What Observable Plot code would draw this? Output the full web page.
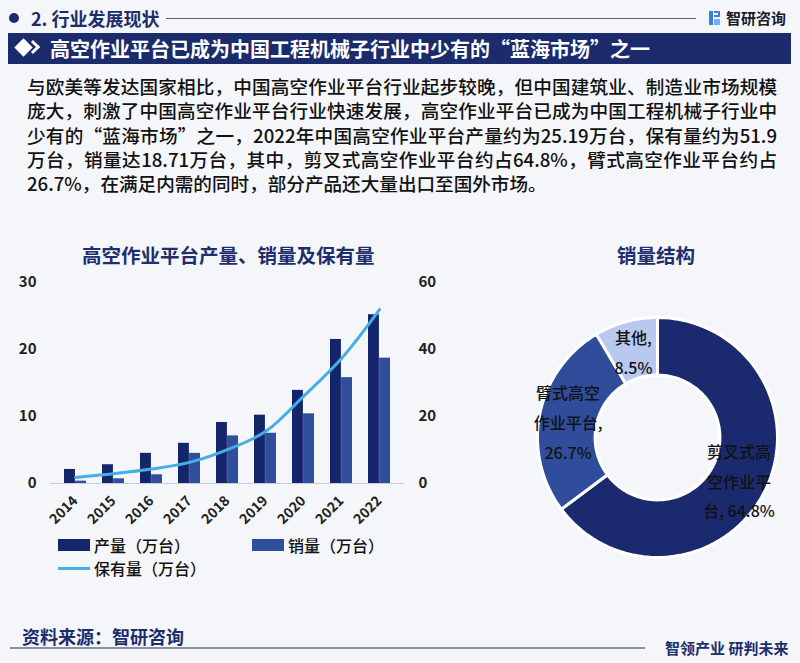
<!DOCTYPE html>
<html><head><meta charset="utf-8">
<script src="https://cdn.jsdelivr.net/npm/d3@7"></script>
<script src="https://cdn.jsdelivr.net/npm/@observablehq/plot@0.6"></script>
<style>
body{margin:0;background:#f5f6f9;font-family:"Noto Sans CJK SC","Noto Sans",sans-serif;}
#root{position:relative;width:800px;height:663px;overflow:hidden;background:#f5f6f9;}
.abs{position:absolute;white-space:nowrap;}
#para{left:27px;top:74px;width:750px;font-size:18.6px;line-height:24.3px;font-weight:500;color:#111;white-space:normal;}
#para div{text-align:justify;text-align-last:justify;white-space:nowrap;height:24.3px;}
#para div.last{text-align-last:left;}
.ctitle{font-size:19.5px;font-weight:700;color:#1f2e6e;}
.leg{font-size:16px;font-weight:500;color:#111;}
svg{overflow:visible;}
</style></head><body><div id="root">
<div class="abs" style="left:9px;top:13px;width:10px;height:10px;border-radius:50%;background:#1c2d6e"></div>
<div class="abs" style="left:31px;top:5px;font-size:18px;font-weight:700;color:#1c2d6e;line-height:26px">2. 行业发展现状</div>
<div class="abs" style="left:166px;top:18px;width:530px;height:1px;background:#666"></div>
<div class="abs" style="left:709px;top:11px;width:4px;height:14px;background:#3a7fd9"></div>
<div class="abs" style="left:714px;top:11px;width:6px;height:6px;border:2px solid #3a7fd9;border-left:none;box-sizing:border-box"></div>
<div class="abs" style="left:714px;top:19px;width:6px;height:6px;background:#6fb1f0"></div>
<div class="abs" style="left:726px;top:6px;font-size:15px;font-weight:700;color:#1a1a2a;line-height:24px">智研咨询</div>
<div class="abs" style="left:8px;top:33px;width:783px;height:31px;background:#1c2b6c"></div>
<div class="abs" style="left:17px;top:41px;width:13px;height:13px;background:#fff;transform:rotate(45deg)"></div>
<div class="abs" style="left:28px;top:42px;width:10px;height:10px;border-top:3px solid #fff;border-right:3px solid #fff;box-sizing:border-box;transform:rotate(45deg)"></div>
<div class="abs" style="left:50px;top:33px;font-size:20px;font-weight:700;color:#fff;line-height:31px">高空作业平台已成为中国工程机械子行业中少有的“蓝海市场”之一</div>
<div id="para" class="abs"></div>
<div class="abs ctitle" style="left:82px;top:241px;line-height:28px">高空作业平台产量、销量及保有量</div>
<div class="abs ctitle" style="left:617px;top:241px;line-height:28px">销量结构</div>
<div id="bars" class="abs" style="left:0;top:270px"></div>
<div id="line" class="abs" style="left:0;top:270px"></div>
<div id="legend"></div>
<div id="donut" class="abs" style="left:527px;top:307px"></div>
<div class="abs" style="left:22px;top:623px;font-size:18px;font-weight:700;color:#1c2d6e;line-height:26px">资料来源：智研咨询</div>
<div class="abs" style="left:10px;top:647px;width:635px;height:2px;background:#8a8fa0"></div>
<div class="abs" style="left:665px;top:637px;font-size:15px;font-weight:700;color:#1c2d6e;line-height:22px">智领产业 研判未来</div>
</div>
<script>
// ---- data ----
const paraLines = [
  "与欧美等发达国家相比，中国高空作业平台行业起步较晚，但中国建筑业、制造业市场规模",
  "庞大，刺激了中国高空作业平台行业快速发展，高空作业平台已成为中国工程机械子行业中",
  "少有的“蓝海市场”之一，2022年中国高空作业平台产量约为25.19万台，保有量约为51.9",
  "万台，销量达18.71万台，其中，剪叉式高空作业平台约占64.8%，臂式高空作业平台约占",
  "26.7%，在满足内需的同时，部分产品还大量出口至国外市场。"
];
const years = ["2014","2015","2016","2017","2018","2019","2020","2021","2022"];
const production = [2.1, 2.8, 4.5, 6.0, 9.1, 10.2, 13.9, 21.5, 25.19];
const sales = [0.35, 0.7, 1.3, 4.5, 7.1, 7.5, 10.4, 15.8, 18.71];
const stock = [1.8, 2.9, 4.3, 6.3, 10.1, 15.5, 26.0, 37.3, 51.9];
const leftTicks = [0, 10, 20, 30];
const rightTicks = [0, 20, 40, 60];
const seriesNames = ["产量（万台）", "销量（万台）", "保有量（万台）"];
const segNames = ["剪叉式高空作业平台", "臂式高空作业平台", "其他"];
const segShares = [64.8, 26.7, 8.5];
const segLabels = ["剪叉式高\n空作业平\n台, 64.8%", "臂式高空\n作业平台,\n26.7%", "其他,\n8.5%"];

// ---- styles ----
const FONT = '"Noto Sans CJK SC","Noto Sans",sans-serif';
const C_PROD = "#15256b", C_SALE = "#2f4f9d", C_LINE = "#45aee6";
const segColors = ["#1b2a6e", "#2f4d9b", "#b8c8ee"];

document.getElementById("para").innerHTML =
  paraLines.map((l, i) => `<div${i === paraLines.length - 1 ? ' class="last"' : ""}>${l}</div>`).join("");

const table = years.map((y, i) => ({year: y, production: production[i], sales: sales[i], stock: stock[i]}));

const W = 450, H = 265, ML = 50, MR = 46, MT = 12, MB = 52;
const xScale = {type: "band", domain: years, paddingInner: 0.42, paddingOuter: 0.34};
const half = ((W - ML - MR) / (years.length - 0.42 + 0.68)) * 0.58 / 2;

const barPlot = Plot.plot({
  width: W, height: H, marginTop: MT, marginBottom: MB, marginLeft: ML, marginRight: MR,
  style: {background: "transparent", fontFamily: FONT, color: "#222", fontWeight: 600},
  x: xScale,
  y: {domain: [0, 30]},
  marks: [
    Plot.ruleY([0], {stroke: "#c9ccd6"}),
    Plot.barY(table, {x: "year", y: "production", fill: C_PROD, insetRight: half, insetLeft: 0}),
    Plot.barY(table, {x: "year", y: "sales", fill: C_SALE, insetLeft: half, insetRight: 0}),
    Plot.axisY({ticks: leftTicks, tickSize: 0, tickPadding: 14, label: null, fontSize: 15}),
    Plot.axisX({tickSize: 0, tickPadding: 15, tickRotate: -45, label: null, fontSize: 14})
  ]
});
document.getElementById("bars").append(barPlot);

const linePlot = Plot.plot({
  width: W, height: H, marginTop: MT, marginBottom: MB, marginLeft: ML, marginRight: MR,
  style: {background: "transparent", fontFamily: FONT, color: "#222", fontWeight: 600},
  x: {...xScale, axis: null},
  y: {domain: [0, 60], axis: null},
  marks: [
    Plot.line(table, {x: "year", y: "stock", stroke: C_LINE, strokeWidth: 3, curve: "catmull-rom"}),
    Plot.axisY({anchor: "right", ticks: rightTicks, tickSize: 0, tickPadding: 14, label: null, fontSize: 15})
  ]
});
document.getElementById("line").append(linePlot);

// legend
const leg = document.getElementById("legend");
leg.innerHTML = `
<div class="abs" style="left:58px;top:539px;width:32px;height:12px;background:${C_PROD}"></div>
<div class="abs leg" style="left:94px;top:533px;line-height:24px">${seriesNames[0]}</div>
<div class="abs" style="left:252px;top:539px;width:32px;height:12px;background:${C_SALE}"></div>
<div class="abs leg" style="left:288px;top:533px;line-height:24px">${seriesNames[1]}</div>
<div class="abs" style="left:58px;top:567px;width:32px;height:3px;background:${C_LINE}"></div>
<div class="abs leg" style="left:94px;top:556px;line-height:24px">${seriesNames[2]}</div>`;

// donut
const RIN = 0.52;
const arcs = d3.pie().sort(null).value(d => d)(segShares);
const ringPts = [];
arcs.forEach((a, i) => {
  const n = 80;
  for (let k = 0; k <= n; k++) {
    const t = a.startAngle + (a.endAngle - a.startAngle) * k / n;
    ringPts.push({seg: segNames[i], x: Math.sin(t), y: Math.cos(t)});
  }
  for (let k = n; k >= 0; k--) {
    const t = a.startAngle + (a.endAngle - a.startAngle) * k / n;
    ringPts.push({seg: segNames[i], x: RIN * Math.sin(t), y: RIN * Math.cos(t)});
  }
});
const labelPts = arcs.map((a, i) => {
  const m = (a.startAngle + a.endAngle) / 2, r = (1 + RIN) / 2;
  return {label: segLabels[i], x: r * Math.sin(m), y: r * Math.cos(m)};
});
const donut = Plot.plot({
  width: 260, height: 260, margin: 10,
  style: {background: "transparent", fontFamily: FONT},
  x: {domain: [-1, 1], axis: null},
  y: {domain: [-1, 1], axis: null},
  color: {domain: segNames, range: segColors},
  marks: [
    Plot.line(ringPts, {x: "x", y: "y", z: "seg", fill: "seg", stroke: "#ffffff", strokeWidth: 3, curve: "linear-closed"}),
    Plot.text(labelPts, {x: "x", y: "y", text: "label", fill: "#111", fontSize: 16, fontWeight: 500, lineHeight: 1.85, textAnchor: "middle"})
  ]
});
document.getElementById("donut").append(donut);
</script>
</body></html>
